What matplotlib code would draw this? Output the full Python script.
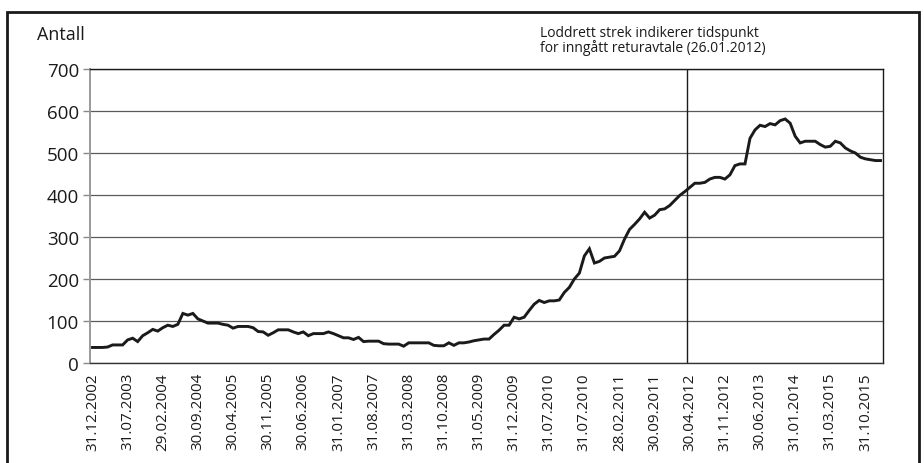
import numpy as np
import matplotlib
matplotlib.use('Agg')
import matplotlib.pyplot as plt
from matplotlib.patches import Rectangle

plt.rcParams['font.family'] = ['Open Sans', 'DejaVu Sans']

# monthly count (158 points)
antall = [37, 37, 37, 38, 43, 43, 43, 55, 59, 51,
          65, 72, 80, 76, 84, 90, 87, 92, 118, 114,
          118, 105, 100, 95, 95, 95, 92, 90, 83, 87,
          87, 87, 84, 75, 74, 66, 72, 79, 79, 79,
          74, 70, 74, 65, 70, 70, 70, 74, 70, 65,
          60, 60, 56, 61, 51, 52, 52, 52, 46, 45,
          45, 45, 40, 48, 48, 48, 48, 48, 42, 41,
          41, 48, 42, 48, 48, 50, 53, 55, 57, 57,
          68, 78, 90, 90, 109, 105, 109, 125, 140, 149,
          144, 148, 148, 150, 168, 180, 200, 214, 255, 272,
          238, 242, 250, 252, 254, 267, 295, 318, 330, 343,
          359, 345, 352, 365, 367, 375, 387, 399, 408, 418,
          428, 428, 430, 438, 442, 442, 438, 448, 470, 474,
          474, 535, 555, 566, 563, 570, 567, 577, 581, 571,
          540, 524, 528, 528, 528, 520, 514, 516, 528, 524,
          512, 505, 500, 490, 486, 484, 482, 482]

# category labels shown on the x axis (every 7th point)
xlabels = ['31.12.2002', '31.07.2003', '29.02.2004', '30.09.2004', '30.04.2005',
           '30.11.2005', '30.06.2006', '31.01.2007', '31.08.2007', '31.03.2008',
           '31.10.2008', '31.05.2009', '31.12.2009', '31.07.2010', '31.07.2010',
           '28.02.2011', '30.09.2011', '30.04.2012', '31.11.2012', '30.06.2013',
           '31.01.2014', '31.03.2015', '31.10.2015']
label_step = 7
avtale_pos = 118.4  # returavtale 26.01.2012
yticks = [0, 100, 200, 300, 400, 500, 600, 700]

fig = plt.figure(figsize=(9.24, 4.64), dpi=100)
ax = fig.add_axes([90/924, 1-364/464, (883-90)/924, (364-70)/464])

x = np.arange(len(antall))
ax.plot(x, antall, color='#1a1a1a', lw=2.1, solid_joinstyle='miter', zorder=3)
ax.axvline(avtale_pos, color='#1a1a1a', lw=1.0, zorder=2)

ax.set_xlim(-0.5, len(antall) - 0.5)
ax.set_ylim(0, 700)
ax.set_yticks(yticks)
ax.set_yticklabels([str(v) for v in yticks], fontsize=13.5)
ax.yaxis.grid(True, color='#5a5a5a', lw=0.9)
ax.set_axisbelow(True)
ax.tick_params(axis='y', length=5, width=1, color='#888888', pad=3, labelcolor='#1a1a1a')

ax.set_xticks(x[::label_step])
ax.set_xticklabels(xlabels, rotation=90, fontsize=11, color='#1a1a1a')
ax.tick_params(axis='x', length=0, pad=6.5)

ax.spines['left'].set_color('#999999')
ax.spines['left'].set_linewidth(1.4)
ax.spines['bottom'].set_color('#333333')
ax.spines['top'].set_color('#1a1a1a')
ax.spines['right'].set_color('#1a1a1a')
for s in ['bottom', 'top', 'right']:
    ax.spines[s].set_linewidth(1.0)

fig.text(37/924, 1-35/464, 'Antall', fontsize=13, va='center', ha='left', color='#1a1a1a')
fig.text(540/924, 1-26/464, 'Loddrett strek indikerer tidspunkt\nfor inngått returavtale (26.01.2012)',
         fontsize=10, va='top', ha='left', linespacing=0.95, color='#1a1a1a')

# outer frame of the figure box
fig.patches.append(Rectangle((7/924, -0.2), (919-7)/924, 1.2 - 13/464, transform=fig.transFigure,
                             fill=False, lw=2, edgecolor='#1a1a1a'))

fig.savefig('out.png', dpi=100)
